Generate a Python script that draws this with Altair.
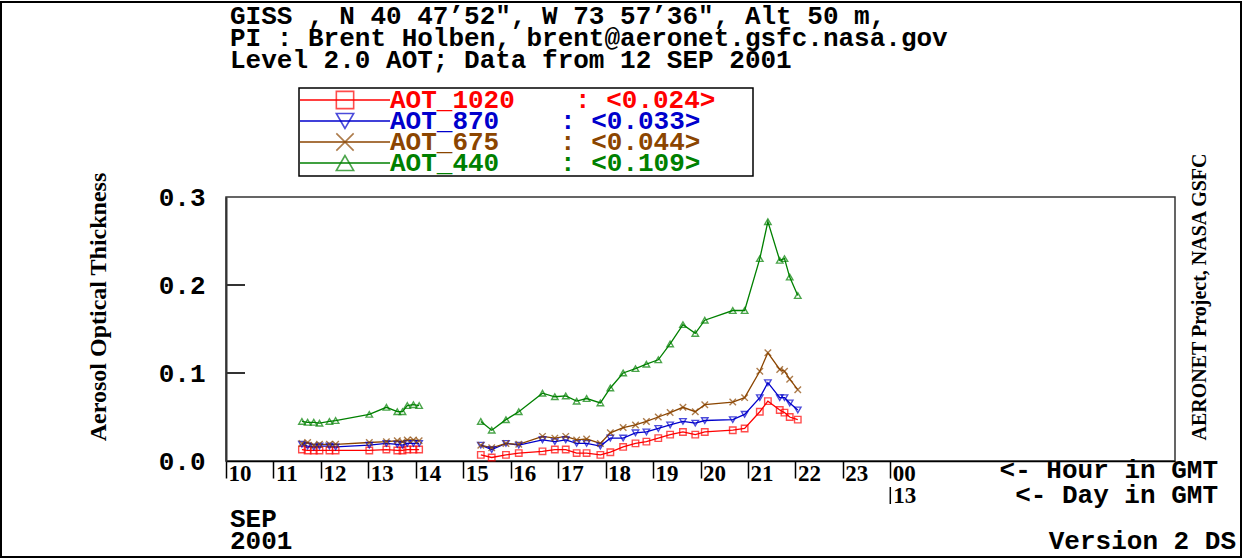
import altair as alt
import pandas as pd

# ---------------- data ----------------
series_names = ["AOT_1020", "AOT_870", "AOT_675", "AOT_440"]
series_means = [": <0.024>", ": <0.033>", ": <0.044>", ": <0.109>"]
series_colors = ["#FF0000", "#0000CC", "#8B4500", "#008000"]
series_shapes = ["square", "triangle-down", "M-1,-1L1,1M-1,1L1,-1", "triangle-up"]

# measurement times, hours GMT on 12 SEP 2001
hours_am = [11.60, 11.72, 11.85, 11.97, 12.18, 12.31, 13.02, 13.38, 13.61, 13.72, 13.82, 13.95, 14.07]
hours_pm = [15.37, 15.60, 15.90, 16.17, 16.67, 16.93, 17.16, 17.39, 17.60, 17.89, 18.10, 18.37,
            18.63, 18.86, 19.11, 19.36, 19.63, 19.89, 20.09, 20.68, 20.93, 21.25, 21.42, 21.67,
            21.77, 21.88, 22.05]

aot1020_am = [0.013, 0.012, 0.012, 0.012, 0.012, 0.012, 0.012, 0.013, 0.012, 0.012, 0.013, 0.013, 0.013]
aot870_am = [0.019, 0.017, 0.016, 0.017, 0.017, 0.016, 0.018, 0.020, 0.019, 0.018, 0.020, 0.020, 0.020]
aot675_am = [0.020, 0.021, 0.018, 0.019, 0.019, 0.019, 0.021, 0.022, 0.023, 0.022, 0.024, 0.024, 0.023]
aot440_am = [0.045, 0.044, 0.044, 0.043, 0.045, 0.046, 0.053, 0.061, 0.056, 0.056, 0.063, 0.064, 0.063]

aot1020_pm = [0.007, 0.004, 0.007, 0.009, 0.011, 0.013, 0.013, 0.009, 0.009, 0.007, 0.010, 0.016,
              0.020, 0.022, 0.026, 0.030, 0.033, 0.030, 0.033, 0.035, 0.037, 0.056, 0.068, 0.058,
              0.055, 0.050, 0.047]
aot870_pm = [0.018, 0.013, 0.020, 0.018, 0.024, 0.022, 0.024, 0.020, 0.020, 0.017, 0.026, 0.026,
             0.032, 0.033, 0.037, 0.041, 0.045, 0.043, 0.046, 0.047, 0.053, 0.072, 0.089, 0.072,
             0.072, 0.066, 0.058]
aot675_pm = [0.018, 0.015, 0.020, 0.019, 0.028, 0.026, 0.028, 0.024, 0.025, 0.020, 0.032, 0.038,
             0.041, 0.045, 0.050, 0.055, 0.061, 0.056, 0.064, 0.067, 0.072, 0.102, 0.123, 0.104,
             0.102, 0.093, 0.081]
aot440_pm = [0.045, 0.035, 0.047, 0.056, 0.077, 0.073, 0.074, 0.068, 0.071, 0.066, 0.083, 0.100,
             0.105, 0.110, 0.115, 0.133, 0.155, 0.145, 0.160, 0.171, 0.171, 0.230, 0.272, 0.228,
             0.230, 0.209, 0.188]

hour_ticks = list(range(10, 25))
y_ticks = [0.0, 0.1, 0.2, 0.3]
y_inner_ticks = [0.1, 0.2]
day_hours = [24]
day_labels = ["13"]

title_lines = [
    "GISS , N 40 47\u201952\", W 73 57\u201936\", Alt 50 m,",
    "PI : Brent Holben, brent@aeronet.gsfc.nasa.gov",
    "Level 2.0 AOT; Data from 12 SEP 2001",
]
y_title = "Aerosol Optical Thickness"
right_title = "AERONET Project, NASA GSFC"
hour_note = "<- Hour in GMT"
day_note = "<- Day in GMT"
month_text = "SEP"
year_text = "2001"
version_text = "Version 2 DS"

# ---------------- table ----------------
rows = []
for name, am, pm in zip(series_names,
                        [aot1020_am, aot870_am, aot675_am, aot440_am],
                        [aot1020_pm, aot870_pm, aot675_pm, aot440_pm]):
    for h, v in zip(hours_am, am):
        rows.append({"series": name, "hour": h, "aot": v, "seg": "am"})
    for h, v in zip(hours_pm, pm):
        rows.append({"series": name, "hour": h, "aot": v, "seg": "pm"})
df = pd.DataFrame(rows)

BIG = "Liberation Mono"
SERIF = "Liberation Serif"
BIGSIZE = 26

xscale = alt.Scale(domain=[10, 30], nice=False, zero=False)
yscale = alt.Scale(domain=[0, 0.3], nice=False, zero=False)
cscale = alt.Scale(domain=series_names, range=series_colors)
sscale = alt.Scale(domain=series_names, range=series_shapes)

x_axis = alt.Axis(values=hour_ticks, title=None, grid=False,
                  labelExpr="datum.value == 24 ? '00' : format(datum.value, '02d')",
                  tickSize=17, tickColor="black", tickWidth=1.5,
                  labelAlign="left", labelBaseline="top", labelPadding=-16, labelOffset=2,
                  labelFont=SERIF, labelFontWeight="bold", labelFontSize=23, labelColor="black",
                  labelFlush=False, labelOverlap=False,
                  domainColor="black", domainWidth=1.5)
y_axis = alt.Axis(values=y_ticks, format=".1f", title=None, grid=False, ticks=False,
                  labelPadding=21, labelFont=BIG, labelFontWeight="bold", labelFontSize=BIGSIZE,
                  labelColor="black", labelBaseline="middle",
                  domainColor="#333333", domainWidth=2)

X = alt.X("hour:Q", scale=xscale, axis=x_axis)
Y = alt.Y("aot:Q", scale=yscale, axis=y_axis)

base = alt.Chart(df)
lines = base.mark_line(strokeWidth=1.3).encode(
    x=X, y=Y,
    color=alt.Color("series:N", scale=cscale, legend=None),
    detail="seg:N",
    order="hour:Q",
)
points = base.mark_point(filled=False, size=42, strokeWidth=1.4).encode(
    x=X, y=Y,
    color=alt.Color("series:N", scale=cscale, legend=None),
    shape=alt.Shape("series:N", scale=sscale, legend=None),
)

inner_ticks = alt.Chart(pd.DataFrame({"aot": y_inner_ticks})).mark_rule(
    color="#333333", strokeWidth=2).encode(y=Y, x=alt.value(0), x2=alt.value(19))

day_df = pd.DataFrame({"hour": day_hours, "lab": day_labels})
day_tick = alt.Chart(day_df).mark_rule(color="black", strokeWidth=1.5).encode(
    x=X, y=alt.value(290), y2=alt.value(307))
day_text = alt.Chart(day_df).mark_text(
    align="left", baseline="middle", dx=3, font=SERIF, fontWeight="bold", fontSize=23,
    color="black").encode(x=X, y=alt.value(299), text="lab:N")


def text_layer(txt, x, y, color="black", font=BIG, size=BIGSIZE, weight="bold", align="left",
               baseline="alphabetic", angle=0):
    kw = dict(align=align, baseline=baseline, font=font, fontSize=size, fontWeight=weight,
              color=color)
    if angle:
        kw["angle"] = angle
    return alt.Chart(pd.DataFrame({"t": [txt]})).mark_text(**kw).encode(
        x=alt.value(x), y=alt.value(y), text="t:N")


layers = [lines, points, inner_ticks, day_tick, day_text]

# header
for i, line in enumerate(title_lines):
    layers.append(text_layer(line, 4, -173 + 22 * i))

# legend box
legend_box = alt.Chart(pd.DataFrame({"a": [0]})).mark_rect(
    fillOpacity=0, stroke="black", strokeWidth=1.5).encode(
    x=alt.value(73), x2=alt.value(527), y=alt.value(-109), y2=alt.value(-21))
layers.append(legend_box)
row_y = [-97, -76, -55, -34]
value_x = [349, 334, 334, 334]
for name, mean, col, shp, ry, vx in zip(series_names, series_means, series_colors,
                                        series_shapes, row_y, value_x):
    layers.append(alt.Chart(pd.DataFrame({"a": [0]})).mark_rule(color=col, strokeWidth=1.3).encode(
        x=alt.value(74), x2=alt.value(164), y=alt.value(ry)))
    layers.append(alt.Chart(pd.DataFrame({"a": [0]})).mark_point(
        shape=shp, size=300, filled=False, color=col, strokeWidth=1.6).encode(
        x=alt.value(119), y=alt.value(ry)))
    layers.append(text_layer(name, 164, ry + 8, color=col))
    layers.append(text_layer(mean, vx, ry + 8, color=col))

# side titles
layers.append(text_layer(y_title, -127, 110, font=SERIF, size=24, weight="bold",
                         align="center", baseline="middle", angle=270))
layers.append(text_layer(right_title, 974, 100, font=SERIF, size=20, weight="bold",
                         align="center", baseline="middle", angle=270))

# notes below plot
layers.append(text_layer(hour_note, 992, 281, align="right"))
layers.append(text_layer(day_note, 992, 306, align="right"))
layers.append(text_layer(month_text, 4, 330))
layers.append(text_layer(year_text, 4, 352))
layers.append(text_layer(version_text, 1010, 352, align="right"))

# outer frame
frame = alt.Chart(pd.DataFrame({"a": [0]})).mark_rect(
    fillOpacity=0, stroke="black", strokeWidth=2).encode(
    x=alt.value(-225), x2=alt.value(1015), y=alt.value(-195), y2=alt.value(360))
layers.append(frame)

chart = alt.layer(*layers).properties(
    width=949, height=264,
    padding={"left": 226, "top": 197, "right": 68, "bottom": 97},
    autosize=alt.AutoSizeParams(type="none"),
    background="white",
).configure_view(stroke="#333333", strokeWidth=1.5)

chart.save("out.html", embed_options={"renderer": "svg", "actions": False})
